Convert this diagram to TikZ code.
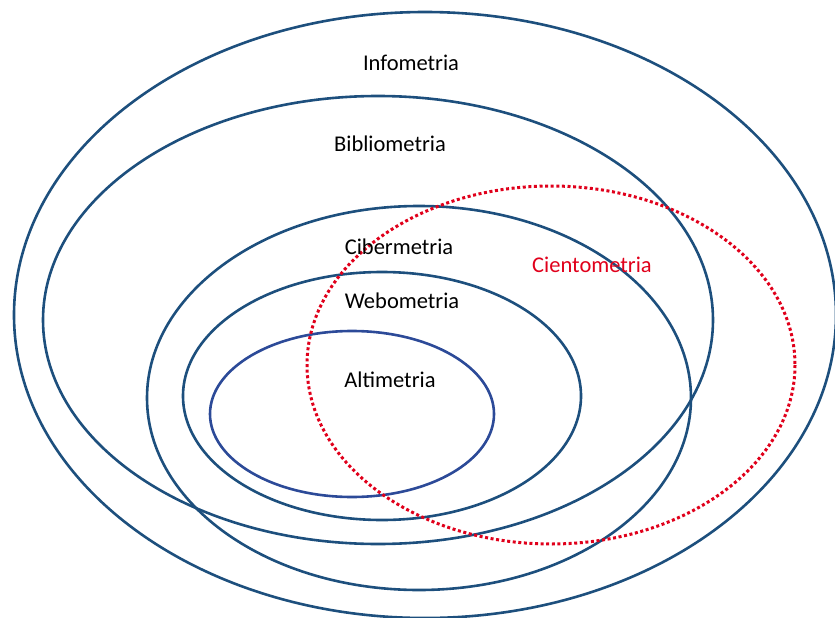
\documentclass[tikz,border=0pt]{standalone}
\usepackage{fontspec}
\setmainfont{Carlito}
\definecolor{ringblue}{HTML}{1D4F7D}
\definecolor{altblue}{HTML}{2C4A98}
\definecolor{cienred}{HTML}{E0001B}
\begin{document}
\begin{tikzpicture}[x=1pt,y=-1pt,
  ring/.style={draw=ringblue,line width=2.6pt},
  lab/.style={font=\fontsize{22.5}{27}\selectfont,text=black,inner sep=0pt}]
\useasboundingbox (0,0) rectangle (835,618);
\begin{scope}
\clip (0,0) rectangle (835,618);
\draw[ring] (425,315) ellipse [x radius=411, y radius=303];
\draw[ring] (378,320) ellipse [x radius=335, y radius=224];
\draw[ring] (419,398) ellipse [x radius=272, y radius=192];
\draw[ring] (382,396) ellipse [x radius=199, y radius=124];
\draw[ring,draw=altblue] (352,414) ellipse [x radius=142, y radius=83];
\draw[draw=cienred,line width=3pt,dash pattern=on 3pt off 2.6pt] (551,365) ellipse [x radius=244, y radius=179];
\end{scope}
\node[lab] (info) at (411,63) {Infometria};
\node[lab] (biblio) at (390,144) {Bibliometria};
\node[lab] (ciber) at (399,247) {Cibermetria};
\node[lab] (webo) at (402,301) {Webometria};
\node[lab] (alti) at (390,380) {Altimetria};
\node[lab,text=cienred] (cien) at (592,265) {Cientometria};
\end{tikzpicture}
\end{document}
